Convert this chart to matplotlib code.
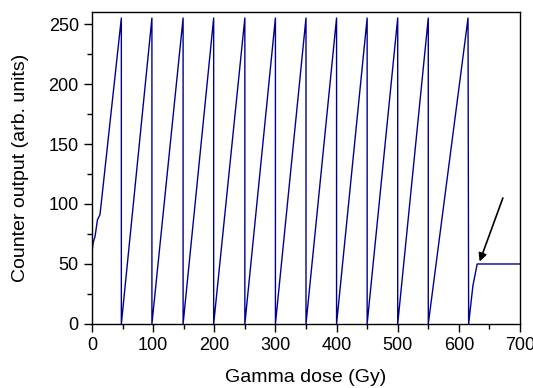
import matplotlib.pyplot as plt
from matplotlib.ticker import MultipleLocator

plt.rcParams['font.family'] = ['Liberation Sans', 'DejaVu Sans']

# dose (Gy) and counter reading
dose = [0, 2, 5, 9, 13, 15, 48,
        48, 98, 98, 149, 149, 199, 199, 250, 250, 300, 300, 350,
        350, 400, 400, 450, 450, 500, 500, 550, 550, 615,
        616, 623, 630, 700]
counter = [60, 68, 73, 87, 91, 100, 255,
           0, 255, 0, 255, 0, 255, 0, 255, 0, 255, 0, 255,
           0, 255, 0, 255, 0, 255, 0, 255, 0, 255,
           0, 32, 50, 50]

arrow_tail = (672, 105)
arrow_head = (634, 52)

fig = plt.figure(figsize=(5.33, 3.88), dpi=100)
ax = fig.add_axes([0.1726, 0.165, 0.803, 0.804])
ax.plot(dose, counter, color='#000090', linewidth=1.0)

ax.annotate('', xy=arrow_head, xytext=arrow_tail,
            arrowprops=dict(arrowstyle='-|>', color='black', lw=1.2,
                            mutation_scale=12, shrinkA=0, shrinkB=0))

ax.set_xlim(0, 700)
ax.set_ylim(0, 260)
ax.xaxis.set_major_locator(MultipleLocator(100))
ax.xaxis.set_minor_locator(MultipleLocator(50))
ax.yaxis.set_major_locator(MultipleLocator(50))
ax.yaxis.set_minor_locator(MultipleLocator(25))
ax.tick_params(which='major', direction='out', length=6, width=1, labelsize=13)
ax.tick_params(which='minor', direction='out', length=3.5, width=1)
for s in ax.spines.values():
    s.set_linewidth(1)

ax.set_xlabel('Gamma dose (Gy)', fontsize=14, va='center')
ax.set_ylabel('Counter output (arb. units)', fontsize=14, va='center')
ax.xaxis.set_label_coords(0.5, -0.173)
ax.yaxis.set_label_coords(-0.168, 0.5)

plt.savefig('out.png', dpi=100)
